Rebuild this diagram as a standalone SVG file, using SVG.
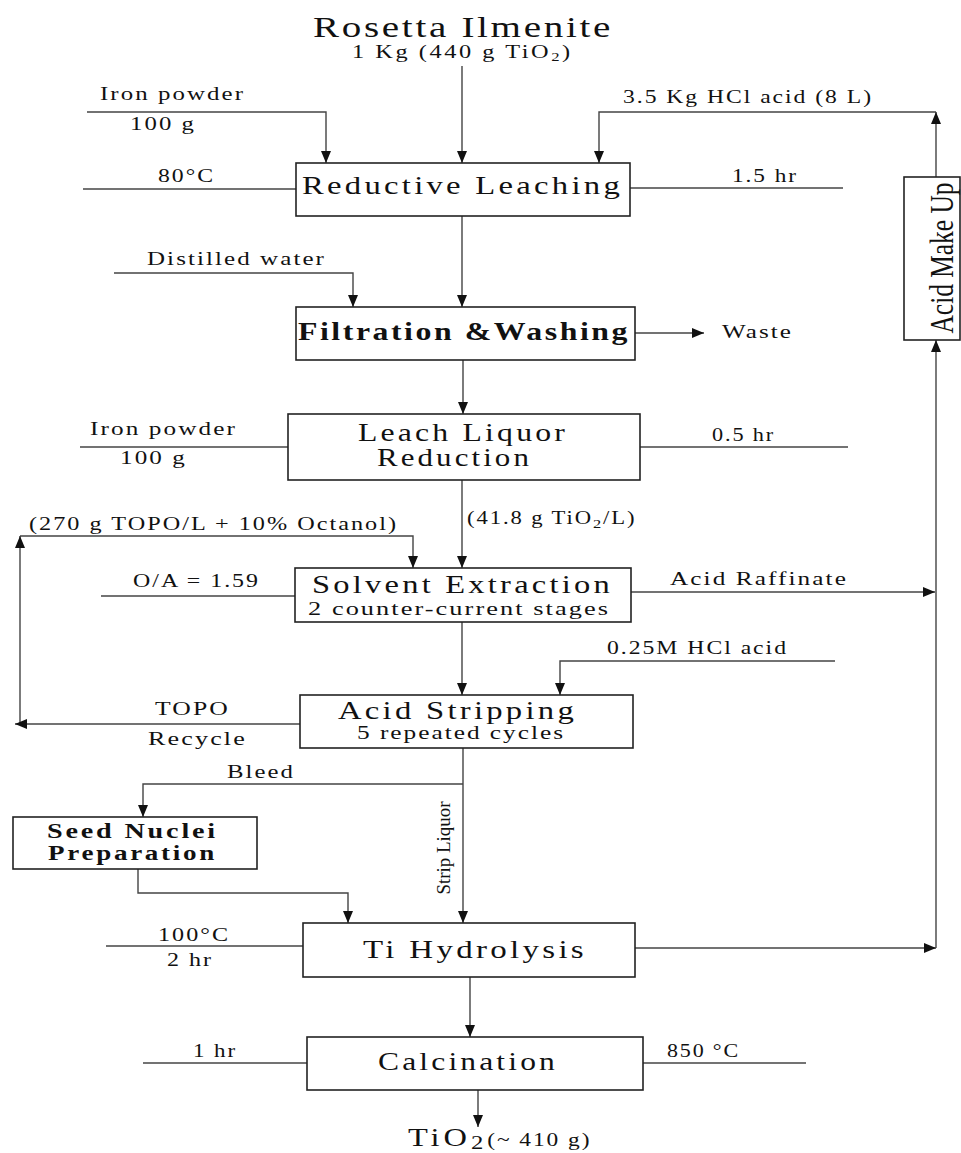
<svg xmlns="http://www.w3.org/2000/svg" width="961" height="1153" viewBox="0 0 961 1153">
<defs>
<marker id="ah" markerUnits="userSpaceOnUse" markerWidth="12" markerHeight="10" refX="12" refY="5" orient="auto">
<path d="M0,0 L12,5 L0,10 z" fill="#111"/>
</marker>
<style>
.box{fill:#fff;stroke:#222;stroke-width:1.6}
.ln{fill:none;stroke:#444;stroke-width:1.4}
.arr{fill:none;stroke:#444;stroke-width:1.4;marker-end:url(#ah)}
text{font-family:"Liberation Serif","Times New Roman",serif;fill:#111}
.t{font-size:25px;letter-spacing:2.5px}
.tb{font-size:25px;font-weight:bold;letter-spacing:2px}
.s{font-size:19px;letter-spacing:1.5px}
.l{font-size:18px;letter-spacing:1.5px}
</style>
</defs>
<rect width="961" height="1153" fill="#fff"/>

<g id="connectors">
<path class="arr" d="M462,66 V163"/>
<path class="arr" d="M87,112 H326 V163"/>
<path class="arr" d="M936,112 H599 V163"/>
<path class="arr" d="M936,177 V112"/>
<path class="ln" d="M83,189 H296"/>
<path class="ln" d="M630,188 H843"/>
<path class="arr" d="M462,216 V307"/>
<path class="arr" d="M114,273 H353 V307"/>
<path class="arr" d="M635,333 H704"/>
<path class="arr" d="M463,360 V414"/>
<path class="ln" d="M80,447 H288"/>
<path class="ln" d="M640,447 H848"/>
<path class="arr" d="M462,480 V568"/>
<path class="arr" d="M20,536 H413 V568"/>
<path class="arr" d="M20,724 V536"/>
<path class="arr" d="M300,724 H15"/>
<path class="ln" d="M101,596 H295"/>
<path class="arr" d="M631,592 H935"/>
<path class="arr" d="M462,622 V695"/>
<path class="arr" d="M835,661 H560 V695"/>
<path class="arr" d="M463,748 V923"/>
<path class="arr" d="M463,784 H143 V817"/>
<path class="arr" d="M138,869 V893 H348 V923"/>
<path class="ln" d="M106,946 H303"/>
<path class="arr" d="M635,948 H936"/>
<path class="arr" d="M936,948 V340"/>
<path class="arr" d="M470,977 V1037"/>
<path class="ln" d="M143,1063 H307"/>
<path class="ln" d="M643,1063 H806"/>
<path class="arr" d="M478,1090 V1127"/>
</g>

<g id="labels">
<text class="l" x="100" y="100" textLength="145" lengthAdjust="spacingAndGlyphs">Iron powder</text>
<text class="l" x="130" y="130" textLength="66" lengthAdjust="spacingAndGlyphs">100 g</text>
<text class="l" x="158" y="182" textLength="57" lengthAdjust="spacingAndGlyphs">80°C</text>
<text class="l" x="623" y="103" textLength="250" lengthAdjust="spacingAndGlyphs">3.5 Kg HCl acid (8 L)</text>
<text class="l" x="732" y="182" textLength="66" lengthAdjust="spacingAndGlyphs">1.5 hr</text>
<text class="l" x="147" y="265" textLength="179" lengthAdjust="spacingAndGlyphs">Distilled water</text>
<text class="l" x="722" y="338" textLength="71" lengthAdjust="spacingAndGlyphs">Waste</text>
<text class="l" x="90" y="435" textLength="147" lengthAdjust="spacingAndGlyphs">Iron powder</text>
<text class="l" x="120" y="464" textLength="67" lengthAdjust="spacingAndGlyphs">100 g</text>
<text class="l" x="712" y="441" textLength="63" lengthAdjust="spacingAndGlyphs">0.5 hr</text>
<text class="l" x="29" y="530" textLength="369" lengthAdjust="spacingAndGlyphs">(270 g TOPO/L + 10% Octanol)</text>
<text class="l" transform="translate(467,524) scale(1.26,1)" letter-spacing="2">(41.8 g TiO<tspan font-size="13" dy="4">2</tspan><tspan dy="-4">/L)</tspan></text>
<text class="l" x="133" y="587" textLength="127" lengthAdjust="spacingAndGlyphs">O/A = 1.59</text>
<text class="l" x="670" y="585" textLength="178" lengthAdjust="spacingAndGlyphs">Acid Raffinate</text>
<text class="l" x="607" y="654" textLength="181" lengthAdjust="spacingAndGlyphs">0.25M HCl acid</text>
<text class="l" x="155" y="715" textLength="75" lengthAdjust="spacingAndGlyphs">TOPO</text>
<text class="l" x="148" y="745" textLength="99" lengthAdjust="spacingAndGlyphs">Recycle</text>
<text class="l" x="227" y="778" textLength="68" lengthAdjust="spacingAndGlyphs">Bleed</text>
<text x="450" y="848" font-size="18" text-anchor="middle" transform="rotate(-90 450 848)" textLength="93" lengthAdjust="spacingAndGlyphs">Strip Liquor</text>
<text class="l" x="158" y="941" textLength="72" lengthAdjust="spacingAndGlyphs">100°C</text>
<text class="l" x="167" y="966" textLength="46" lengthAdjust="spacingAndGlyphs">2 hr</text>
<text class="l" x="193" y="1057" textLength="44" lengthAdjust="spacingAndGlyphs">1 hr</text>
<text class="l" x="667" y="1057" textLength="73" lengthAdjust="spacingAndGlyphs">850 °C</text>
</g>

<g id="n-feed">
<text x="313" y="37" font-size="29" letter-spacing="2" textLength="300" lengthAdjust="spacingAndGlyphs">Rosetta Ilmenite</text>
<text transform="translate(352,58) scale(1.28,1)" font-size="19" letter-spacing="2">1 Kg (440 g TiO<tspan font-size="13" dy="3">2</tspan><tspan dy="-3">)</tspan></text>
</g>

<g id="n-reductive-leaching">
<rect class="box" x="296" y="163" width="334" height="53"/>
<text class="t" x="302" y="194" textLength="321" lengthAdjust="spacingAndGlyphs">Reductive Leaching</text>
</g>

<g id="n-acid-make-up">
<rect class="box" x="904" y="177" width="56" height="163"/>
<text x="953" y="258" font-size="34" text-anchor="middle" transform="rotate(-90 953 258)" textLength="151" lengthAdjust="spacingAndGlyphs">Acid Make Up</text>
</g>

<g id="n-filtration">
<rect class="box" x="296" y="307" width="339" height="53"/>
<text class="tb" x="298" y="340" textLength="332" lengthAdjust="spacingAndGlyphs">Filtration &amp;Washing</text>
</g>

<g id="n-leach-reduction">
<rect class="box" x="288" y="414" width="352" height="66"/>
<text class="t" x="358" y="441" font-size="24" textLength="210" lengthAdjust="spacingAndGlyphs">Leach Liquor</text>
<text class="t" x="377" y="466" font-size="24" textLength="155" lengthAdjust="spacingAndGlyphs">Reduction</text>
</g>

<g id="n-solvent-extraction">
<rect class="box" x="295" y="568" width="336" height="54"/>
<text class="t" x="312" y="593" textLength="301" lengthAdjust="spacingAndGlyphs">Solvent Extraction</text>
<text class="s" x="308" y="615" textLength="302" lengthAdjust="spacingAndGlyphs">2 counter-current stages</text>
</g>

<g id="n-acid-stripping">
<rect class="box" x="300" y="695" width="333" height="53"/>
<text class="t" x="338" y="719" textLength="239" lengthAdjust="spacingAndGlyphs">Acid Stripping</text>
<text class="s" x="357" y="739" textLength="208" lengthAdjust="spacingAndGlyphs">5 repeated cycles</text>
</g>

<g id="n-seed-nuclei">
<rect class="box" x="13" y="817" width="244" height="52"/>
<text x="47" y="838" font-size="20" font-weight="bold" letter-spacing="2" textLength="171" lengthAdjust="spacingAndGlyphs">Seed Nuclei</text>
<text x="48" y="860" font-size="20" font-weight="bold" letter-spacing="2" textLength="169" lengthAdjust="spacingAndGlyphs">Preparation</text>
</g>

<g id="n-ti-hydrolysis">
<rect class="box" x="303" y="923" width="332" height="54"/>
<text class="t" x="363" y="958" textLength="224" lengthAdjust="spacingAndGlyphs">Ti Hydrolysis</text>
</g>

<g id="n-calcination">
<rect class="box" x="307" y="1037" width="336" height="53"/>
<text class="t" x="378" y="1070" textLength="180" lengthAdjust="spacingAndGlyphs">Calcination</text>
</g>

<g id="n-product">
<text transform="translate(408,1146) scale(1.3,1)" font-size="25" letter-spacing="3">TiO<tspan font-size="19" dy="3">2</tspan><tspan font-size="18" dy="-3" letter-spacing="1.5">(~ 410 g)</tspan></text>
</g>
</svg>
